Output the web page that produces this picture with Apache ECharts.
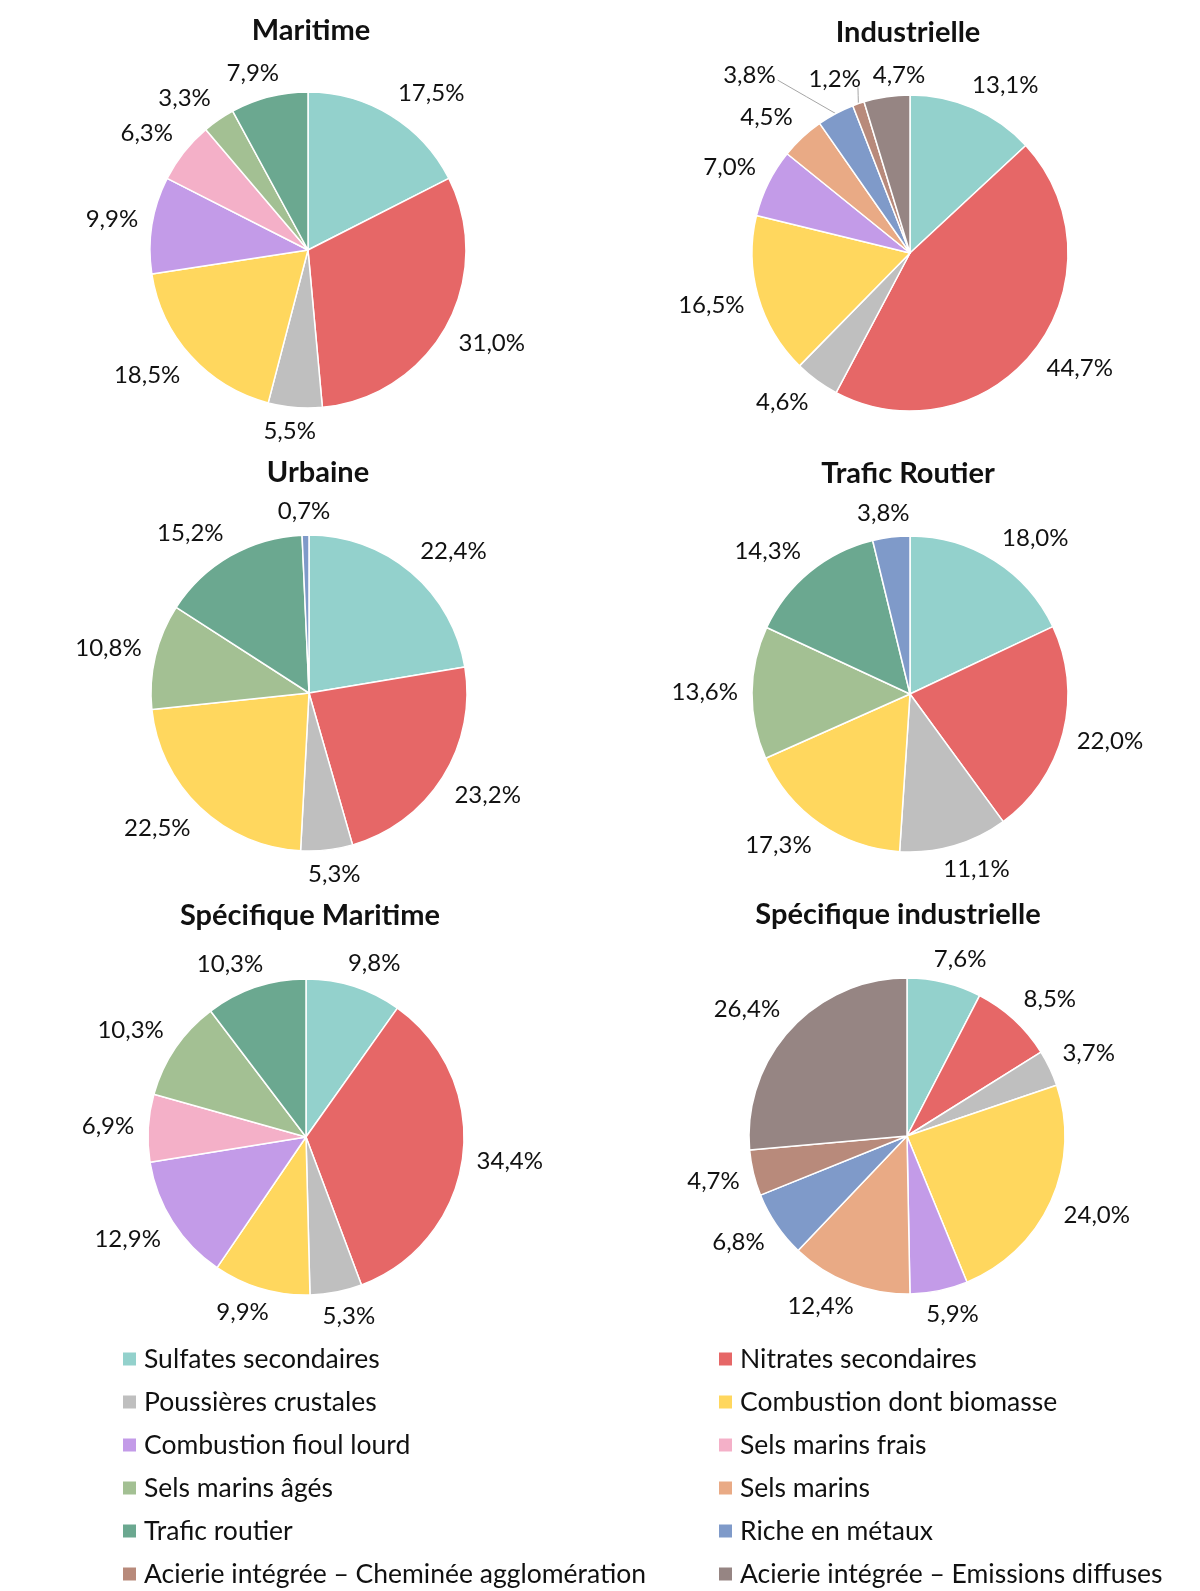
<!DOCTYPE html>
<html><head><meta charset="utf-8">
<script src="https://cdn.jsdelivr.net/npm/echarts@6/dist/echarts.min.js"></script>
<style>html,body{margin:0;padding:0;background:#fff}#c{width:1200px;height:1591px}</style>
</head><body><div id="c"></div>
<script>
const categories = ["Sulfates secondaires","Nitrates secondaires","Poussières crustales","Combustion dont biomasse","Combustion fioul lourd","Sels marins frais","Sels marins âgés","Sels marins","Trafic routier","Riche en métaux","Acierie intégrée – Cheminée agglomération","Acierie intégrée – Emissions diffuses"];
const colors = ["#93D1CC","#E66767","#BFBFBF","#FFD75E","#C39BE8","#F4B0C8","#A3C093","#E9AA85","#6BA890","#7F9AC9","#B88A7B","#968583"];
const titles = ["Maritime","Industrielle","Urbaine","Trafic Routier","Spécifique Maritime","Spécifique industrielle"];
// values in category order (null = absent)
const maritime      = [17.5,31.0,5.5,18.5,9.9,6.3,3.3,null,7.9,null,null,null];
const industrielle  = [13.1,44.7,4.6,16.5,7.0,null,null,4.5,null,3.8,1.2,4.7];
const urbaine       = [22.4,23.2,5.3,22.5,null,null,10.8,null,15.2,0.7,null,null];
const traficRoutier = [18.0,22.0,11.1,17.3,null,null,13.6,null,14.3,3.8,null,null];
const specMaritime  = [9.8,34.4,5.3,9.9,12.9,6.9,10.3,null,10.3,null,null,null];
const specIndus     = [7.6,8.5,3.7,24.0,5.9,null,null,12.4,null,6.8,4.7,26.4];
const allValues = [maritime,industrielle,urbaine,traficRoutier,specMaritime,specIndus];

const centers = [[308,250],[910,253],[309,693],[910,694],[306,1137],[907,1136]];
const titlePos = [[306,11],[903,13],[313,453],[903,454],[305,896],[893,895]];
const R = 158;
const GAP = 14;
const FONT = "Lato";
// label nudges (series index -> category index -> [dx, dy, leaderLine])
const nudges = {1: {9: [-55, -16, 'side'], 10: [-2, -1, 'down'], 11: [22, 2, null]}};

const fmt = v => v.toFixed(1).replace('.', ',') + '%';

function labelLayoutFor(si) {
  const items = allValues[si].map((v, k) => ({v, k})).filter(d => d.v != null);
  const total = items.reduce((a, d) => a + d.v, 0);
  let s = 0;
  const mids = items.map(d => { const m = s + d.v / 2; s += d.v; return m; });
  const clamp = v => Math.max(-1, Math.min(1, v));
  return function (p) {
    const a = mids[p.dataIndex] / total * 2 * Math.PI;
    const ux = Math.sin(a), uy = -Math.cos(a);
    const w = p.labelRect.width, h = p.labelRect.height;
    const [cx, cy] = centers[si];
    let x = cx + ux * (R + GAP) + clamp(ux * 2) * w / 2;
    let y = cy + uy * (R + GAP) + clamp(uy * 2) * h * 0.42;
    const res = {align: 'center', verticalAlign: 'middle'};
    const nd = nudges[si] && nudges[si][items[p.dataIndex].k];
    if (nd) {
      x += nd[0]; y += nd[1];
      const ex = cx + ux * R, ey = cy + uy * R;
      if (nd[2] === 'side') {
        const tx = x + w / 2 + 2, ty = y + 5;
        res.labelLinePoints = [[ex, ey], [(ex + tx) / 2, (ey + ty) / 2], [tx, ty]];
      } else if (nd[2] === 'down') {
        const tx = x + w / 2 - 3, ty = y + h / 2 - 4;
        res.labelLinePoints = [[ex, ey], [(ex + tx) / 2, (ey + ty) / 2], [tx, ty]];
      }
    }
    res.x = x; res.y = y;
    return res;
  };
}

const series = allValues.map((vals, i) => ({
  type: 'pie',
  name: titles[i],
  center: centers[i],
  radius: [0, R],
  startAngle: 90,
  clockwise: true,
  avoidLabelOverlap: false,
  animation: false,
  itemStyle: {borderColor: '#fff', borderWidth: 1.5},
  label: {show: true, position: 'outside', formatter: p => fmt(p.value), fontFamily: FONT, fontSize: 24, color: '#111'},
  labelLine: {show: false, length: 10, length2: 4, lineStyle: {color: '#a6a6a6', width: 1}},
  labelLayout: labelLayoutFor(i),
  emphasis: {disabled: true},
  data: vals.map((v, k) => {
    if (v == null) return null;
    const d = {name: categories[k], value: v, itemStyle: {color: colors[k]}};
    const nd = nudges[i] && nudges[i][k];
    if (nd && nd[2]) d.labelLine = {show: true};
    return d;
  }).filter(d => d)
}));

const left = categories.filter((c, k) => k % 2 === 0);
const right = categories.filter((c, k) => k % 2 === 1);
const legendCommon = {orient: 'vertical', icon: 'rect', itemWidth: 15, itemHeight: 15, itemGap: 13, padding: 0,
  height: 300, width: 480,
  textStyle: {fontFamily: FONT, fontSize: 26.5, color: '#111', lineHeight: 30, padding: [0, 0, 0, 2]}, selectedMode: false};

const chart = echarts.init(document.getElementById('c'), null, {renderer: 'canvas'});
chart.setOption({
  backgroundColor: '#fff',
  color: colors,
  title: titles.map((t, i) => ({text: t, left: titlePos[i][0], top: titlePos[i][1], textAlign: 'center',
    textStyle: {fontFamily: FONT, fontWeight: 'bold', fontSize: 29, color: '#111'}})),
  legend: [
    Object.assign({}, legendCommon, {data: left, left: 121, top: 1344}),
    Object.assign({}, legendCommon, {data: right, left: 717, top: 1344})
  ],
  series: series
});
</script></body></html>
